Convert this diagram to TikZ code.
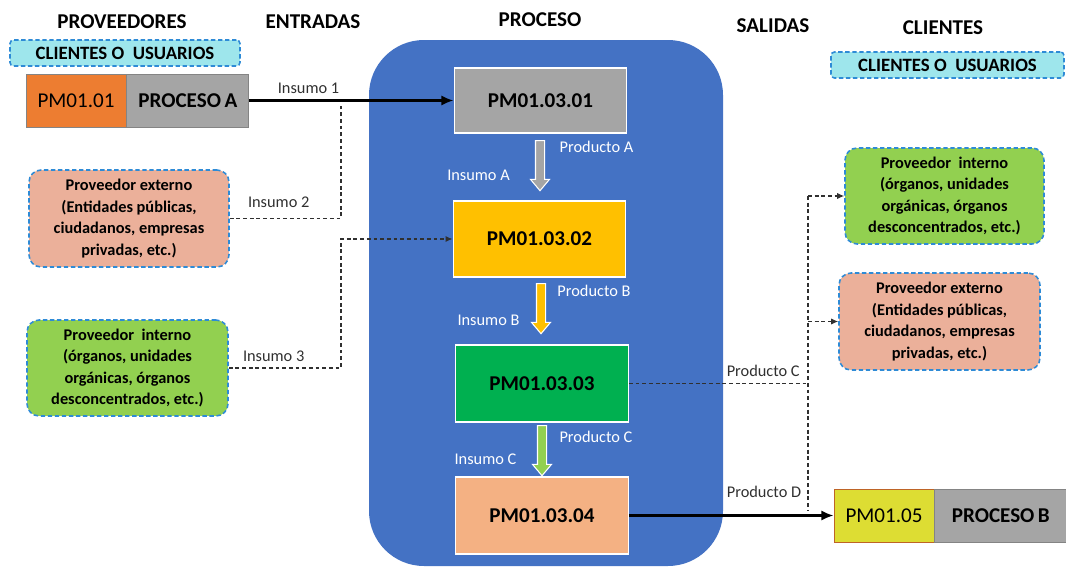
\documentclass[tikz,border=0pt]{standalone}
\usepackage{fontspec}
\setmainfont{Carlito}
\usetikzlibrary{shapes.arrows,arrows.meta}

\definecolor{procblue}{HTML}{4472C4}
\definecolor{boxgray}{HTML}{A5A5A5}
\definecolor{pmorange}{HTML}{ED7D31}
\definecolor{pmyellow}{HTML}{FFC000}
\definecolor{pmgreen}{HTML}{00B050}
\definecolor{pmsalmon}{HTML}{F4B183}
\definecolor{extpink}{HTML}{EBB09A}
\definecolor{intgreen}{HTML}{92D050}
\definecolor{usrcyan}{HTML}{9EE6EC}
\definecolor{dashblue}{HTML}{2E8BD6}
\definecolor{pmlime}{HTML}{DDDD33}
\definecolor{linkgray}{HTML}{303030}

\tikzset{
	heading/.style = {font=\bfseries\fontsize{12}{14}\selectfont},
	usrbox/.style = {draw=dashblue, fill=usrcyan, line width=0.9pt, dash pattern=on 2.5pt off 1.5pt,
		rounded corners=2pt, minimum width=4.6cm, minimum height=0.52cm, inner sep=0pt,
		font=\bfseries\fontsize{10.7}{12}\selectfont},
	actorbox/.style = {draw=dashblue, line width=0.9pt, dash pattern=on 2.5pt off 1.5pt,
		rounded corners=0.24cm, minimum width=4cm, minimum height=1.94cm, align=center,
		font=\bfseries\fontsize{9.3}{12.3}\selectfont},
	procbox/.style = {draw=white, line width=0.8pt, minimum width=3.45cm, minimum height=1.54cm,
		inner sep=0pt, font=\bfseries\fontsize{12}{14}\selectfont},
	codebox/.style = {draw=boxgray!80!black, line width=0.5pt, minimum width=2cm, minimum height=1.06cm,
		inner sep=0pt, font=\fontsize{12}{14}\selectfont},
	namebox/.style = {draw=boxgray!80!black, fill=boxgray, line width=0.5pt, minimum height=1.06cm,
		inner sep=0pt, font=\bfseries\fontsize{12}{14}\selectfont},
	flowarrow/.style = {single arrow, draw=white, line width=0.6pt, rotate=-90, minimum height=1cm,
		minimum width=0.36cm, single arrow head extend=0.1cm, single arrow tip angle=80,
		inner xsep=0pt, inner ysep=0.08cm},
	flowlbl/.style = {text=white, font=\fontsize{9.3}{11}\selectfont},
	linklbl/.style = {text=linkgray, font=\fontsize{9.3}{11}\selectfont},
	flow/.style = {black, line width=1.4pt, -{Latex[length=7pt, width=6pt]}},
	link/.style = {linkgray, line width=0.65pt, dash pattern=on 2.2pt off 1.6pt}
}

\begin{document}
\begin{tikzpicture}[x=0.02cm, y=-0.02cm]
	\useasboundingbox (0,0) rectangle (1066,568);

	%	process area
	\fill[procblue, rounded corners=1.1cm] (369,40) rectangle (723,566);

	%	headings
	\node[heading] (hprov) at (122,22) {PROVEEDORES};
	\node[heading] (hin) at (313,22) {ENTRADAS};
	\node[heading] (hproc) at (540,20) {PROCESO};
	\node[heading] (hout) at (773,26) {SALIDAS};
	\node[heading] (hcli) at (943,28) {CLIENTES};

	\node[usrbox] (usrL) at (125,53) {CLIENTES O\ \ USUARIOS};
	\node[usrbox, minimum width=4.66cm] (usrR) at (947.5,65) {CLIENTES O\ \ USUARIOS};

	%	suppliers
	\node[codebox, fill=pmorange] (pmA) at (76,100.5) {PM01.01};
	\node[namebox, minimum width=2.44cm, anchor=west] (procA) at (pmA.east) {PROCESO\,A};
	\node[actorbox, fill=extpink] (extL) at (129,218.5) {Proveedor externo\\(Entidades públicas,\\ciudadanos, empresas\\privadas, etc.)};
	\node[actorbox, fill=intgreen, minimum width=4.02cm, minimum height=1.92cm] (intL) at (127.5,368) {Proveedor\ \ interno\\(órganos, unidades\\orgánicas, órganos\\desconcentrados, etc.)};

	%	process steps
	\node[procbox, fill=boxgray, minimum height=1.3cm] (p1) at (540.5,100.5) {PM01.03.01};
	\node[procbox, fill=pmyellow, minimum height=1.52cm] (p2) at (539.5,239) {PM01.03.02};
	\node[procbox, fill=pmgreen] (p3) at (542,383.5) {PM01.03.03};
	\node[procbox, fill=pmsalmon] (p4) at (542,515.5) {PM01.03.04};

	\node[flowarrow, fill=boxgray] (aA) at (540,163) {};
	\node[flowarrow, fill=pmyellow] (aB) at (541,306) {};
	\node[flowarrow, fill=intgreen] (aC) at (542,448) {};

	\node[flowlbl] (prodA) at (596.5,147) {Producto A};
	\node[flowlbl] (insA) at (478.5,175.5) {Insumo A};
	\node[flowlbl] (prodB) at (594,291) {Producto B};
	\node[flowlbl] (insB) at (488.5,320.5) {Insumo B};
	\node[flowlbl] (prodC) at (596,437) {Producto C};
	\node[flowlbl] (insC) at (485.5,459) {Insumo C};

	%	clients
	\node[actorbox, fill=intgreen, minimum width=3.98cm, minimum height=1.92cm] (intR) at (944.5,196) {Proveedor\ \ interno\\(órganos, unidades\\orgánicas, órganos\\desconcentrados, etc.)};
	\node[actorbox, fill=extpink, minimum width=4.02cm] (extR) at (939.5,321.5) {Proveedor externo\\(Entidades públicas,\\ciudadanos, empresas\\privadas, etc.)};
	\node[codebox, fill=pmlime, draw=pmorange!80!black, minimum height=1.06cm] (pmB) at (884,515.5) {PM01.05};
	\node[namebox, minimum width=2.64cm, anchor=west] (procB) at (pmB.east) {PROCESO\,B};

	%	inputs
	\coordinate (j1) at (341,104);
	\coordinate (j2) at (341,239);
	\draw[flow] (procA.east) -- node[linklbl, above, pos=0.29] (ins1) {Insumo 1} (p1.west);
	\draw[link] (extL.east) -| node[linklbl, above=0.08cm, pos=0.22] (ins2) {Insumo 2} (j1);
	\draw[link, -{Latex[length=4pt, width=3.5pt]}] (intL.east) -| node[linklbl, above, pos=0.2] (ins3) {Insumo 3} (j2) -- (p2.west);

	%	outputs
	\coordinate (bus) at (808,383.5);
	\draw[link] (p3.east) -- node[linklbl, above, pos=0.75] (prC) {Producto C} (bus);
	\draw[link] (bus |- intR.west) -- ([yshift=3pt]bus |- pmB.west);
	\draw[link, -{Latex[length=4pt, width=3.5pt]}] (bus |- intR.west) -- (intR.west);
	\draw[link, -{Latex[length=4pt, width=3.5pt]}] (bus |- extR.west) -- (extR.west);
	\draw[flow] (p4.east) -- node[linklbl, above=0.22cm, pos=0.66] (prD) {Producto D} (pmB.west);
\end{tikzpicture}
\end{document}
